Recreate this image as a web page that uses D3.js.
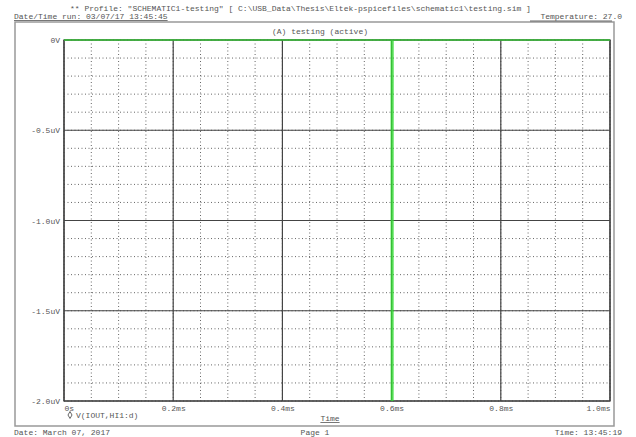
<!DOCTYPE html>
<html><head><meta charset="utf-8">
<script src="https://cdn.jsdelivr.net/npm/d3@7"></script>
<style>
body{margin:0;background:#fff;}
text{font-family:"Liberation Mono","DejaVu Sans Mono",monospace;fill:#555;}
</style></head>
<body><svg id="c" width="636" height="437"></svg>
<script>
// data (time in ms, voltage in uV)
const timeMs = [0, 0.2, 0.4, 0.5995, 0.6, 0.602, 0.6025, 0.8, 1.0];
const voltUV = [0, 0, 0, 0, -6.0, -6.0, 0, 0, 0];
const xTicks = [0, 0.2, 0.4, 0.6, 0.8, 1.0];
const xTickLabels = ["0s", "0.2ms", "0.4ms", "0.6ms", "0.8ms", "1.0ms"];
const yTicks = [0, -0.5, -1.0, -1.5, -2.0];
const yTickLabels = ["0V", "-0.5uV", "-1.0uV", "-1.5uV", "-2.0uV"];
const headerText = '** Profile: "SCHEMATIC1-testing"  [ C:\\USB_Data\\Thesis\\Eltek-pspicefiles\\schematic1\\testing.sim ]';
const dateRun = "Date/Time run: 03/07/17 13:45:45";
const tempText = "Temperature: 27.0";
const plotTitle = "(A) testing (active)";
const legendLabel = "V(IOUT,HI1:d)";
const footer = ["Date: March 07, 2017", "Page 1", "Time: 13:45:19"];

const svg = d3.select("#c");
const L = 64, R = 610, T = 40, B = 401;
const x = d3.scaleLinear().domain([0, 1.0]).range([L, R]);
const y = d3.scaleLinear().domain([-2.0, 0]).range([B, T]);

// outer frame
svg.append("rect").attr("x", 15).attr("y", 22).attr("width", 599).attr("height", 404)
  .attr("fill", "none").attr("stroke", "#999").attr("stroke-width", 1.5);

// header texts
svg.append("text").attr("x", 70).attr("y", 11).attr("font-size", 8).text(headerText);
svg.append("text").attr("x", 14).attr("y", 19).attr("font-size", 8).text(dateRun)
  .attr("text-decoration", "underline");
svg.append("text").attr("x", 622).attr("y", 19).attr("font-size", 8).attr("text-anchor", "end").text(tempText);
svg.append("line").attr("x1", 530).attr("x2", 612).attr("y1", 21).attr("y2", 21).attr("stroke", "#666");
svg.append("text").attr("x", 320).attr("y", 34).attr("font-size", 8).attr("text-anchor", "middle").text(plotTitle);

// grid minor
const g = svg.append("g");
const minorX = d3.range(0, 1.0001, 0.05);
const minorY = d3.range(-2.0, 0.0001, 0.1);
g.selectAll(".mx").data(minorX).enter().append("line")
  .attr("x1", d => x(d)).attr("x2", d => x(d)).attr("y1", T).attr("y2", B)
  .attr("stroke", "#666").attr("stroke-width", 1).attr("stroke-dasharray", "1,2.5");
g.selectAll(".my").data(minorY).enter().append("line")
  .attr("x1", L).attr("x2", R).attr("y1", d => y(d)).attr("y2", d => y(d))
  .attr("stroke", "#666").attr("stroke-width", 1).attr("stroke-dasharray", "1,2.5");
// major grid
g.selectAll(".Mx").data(xTicks).enter().append("line")
  .attr("x1", d => x(d)).attr("x2", d => x(d)).attr("y1", T).attr("y2", B)
  .attr("stroke", "#444").attr("stroke-width", 1.2);
g.selectAll(".My").data(yTicks).enter().append("line")
  .attr("x1", L).attr("x2", R).attr("y1", d => y(d)).attr("y2", d => y(d))
  .attr("stroke", "#444").attr("stroke-width", 1.2);

// plot border
svg.append("rect").attr("x", L).attr("y", T).attr("width", R - L).attr("height", B - T)
  .attr("fill", "none").attr("stroke", "#444").attr("stroke-width", 1.3);

// axes labels
const xAxis = d3.axisBottom(x).tickValues(xTicks).tickSize(0).tickFormat((d, i) => xTickLabels[i]);
const xa = svg.append("g").attr("transform", `translate(0,${B})`).call(xAxis);
xa.select(".domain").remove();
xa.selectAll("text").attr("font-size", 8).attr("dy", "0.9em").attr("font-family", "Liberation Mono").attr("fill", "#555")
  .attr("text-anchor", (d, i) => i === 0 ? "start" : (i === xTicks.length - 1 ? "end" : "middle"));
const yAxis = d3.axisLeft(y).tickValues(yTicks).tickSize(0).tickFormat((d, i) => yTickLabels[i]);
const ya = svg.append("g").attr("transform", `translate(${L - 1},0)`).call(yAxis);
ya.select(".domain").remove();
ya.selectAll("text").attr("font-size", 8).attr("font-family", "Liberation Mono").attr("fill", "#555");

// trace
svg.append("clipPath").attr("id", "clip").append("rect")
  .attr("x", L).attr("y", T - 1).attr("width", R - L).attr("height", B - T + 1);
const line = d3.line().x(d => x(d[0])).y(d => y(d[1]));
svg.append("path").datum(timeMs.map((t, i) => [t, voltUV[i]]))
  .attr("clip-path", "url(#clip)")
  .attr("d", line).attr("fill", "none").attr("stroke", "#33dd33").attr("stroke-width", 1.6).attr("stroke-opacity", 0.8);

// legend
svg.append("path").attr("d", d3.symbol(d3.symbolDiamond, 14)())
  .attr("transform", "translate(70,415)").attr("fill", "none").attr("stroke", "#666");
svg.append("text").attr("x", 76).attr("y", 418).attr("font-size", 8).text(legendLabel);
svg.append("text").attr("x", 330).attr("y", 421).attr("font-size", 8).attr("text-anchor", "middle")
  .attr("text-decoration", "underline").text("Time");

// footer
svg.append("text").attr("x", 14).attr("y", 435).attr("font-size", 8).text(footer[0]);
svg.append("text").attr("x", 315).attr("y", 435).attr("font-size", 8).attr("text-anchor", "middle").text(footer[1]);
svg.append("text").attr("x", 622).attr("y", 435).attr("font-size", 8).attr("text-anchor", "end").text(footer[2]);
</script></body></html>
